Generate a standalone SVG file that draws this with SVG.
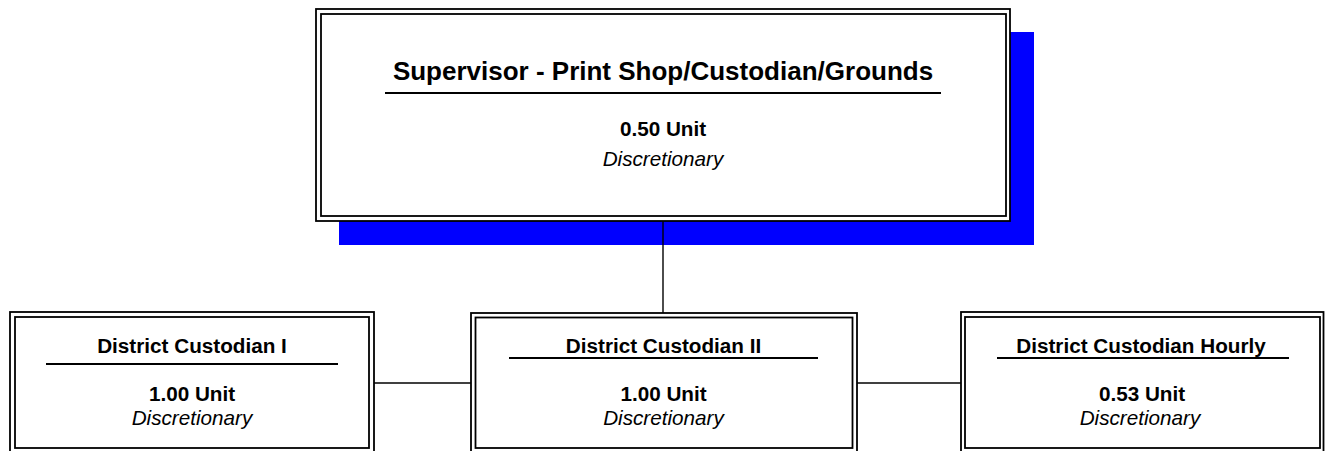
<svg xmlns="http://www.w3.org/2000/svg" width="1330" height="451" viewBox="0 0 1330 451">
  <style>
    .frame { fill: #ffffff; stroke: #000000; stroke-width: 1.8; }
    .inner { fill: none; stroke: #000000; stroke-width: 1.8; }
    .rule { stroke: #000000; stroke-width: 1.8; }
    .link { stroke: #000000; stroke-width: 1.4; fill: none; }
    text { font-family: "Liberation Sans", Arial, sans-serif; fill: #000000; text-anchor: middle; }
    .head { font-size: 26px; font-weight: bold; }
    .title { font-size: 20.7px; font-weight: bold; }
    .unit { font-size: 20.7px; font-weight: bold; }
    .kind { font-size: 20.7px; font-style: italic; }
  </style>

  <!-- supervisor card with drop shadow -->
  <g id="supervisor">
    <rect x="339" y="32" width="695" height="213" fill="#0000ff"/>
    <rect class="frame" x="316" y="9" width="694" height="212"/>
    <rect class="inner" x="321" y="14" width="685" height="202"/>
    <text class="head" x="663" y="80">Supervisor - Print Shop/Custodian/Grounds</text>
    <line class="rule" x1="385" y1="93" x2="941" y2="93"/>
    <text class="unit" x="663" y="136">0.50 Unit</text>
    <text class="kind" x="663" y="166">Discretionary</text>
  </g>

  <!-- reporting lines -->
  <g id="connectors">
    <line class="link" x1="663" y1="221" x2="663" y2="313"/>
    <line class="link" x1="374" y1="383" x2="471" y2="383"/>
    <line class="link" x1="857" y1="383" x2="961" y2="383"/>
  </g>

  <g id="custodian-1">
    <rect class="frame" x="10" y="312" width="364" height="145"/>
    <rect class="inner" x="15" y="317" width="354" height="131"/>
    <text class="title" x="192" y="352.5">District Custodian I</text>
    <line class="rule" x1="46" y1="364" x2="338" y2="364"/>
    <text class="unit" x="192" y="401">1.00 Unit</text>
    <text class="kind" x="192" y="425">Discretionary</text>
  </g>

  <g id="custodian-2">
    <rect class="frame" x="471" y="313" width="386" height="144"/>
    <rect class="inner" x="475.5" y="317.5" width="377" height="130.5"/>
    <text class="title" x="663.5" y="352.5">District Custodian II</text>
    <line class="rule" x1="509" y1="358" x2="818" y2="358"/>
    <text class="unit" x="663.5" y="401">1.00 Unit</text>
    <text class="kind" x="663.5" y="425">Discretionary</text>
  </g>

  <g id="custodian-hourly">
    <rect class="frame" x="961" y="312" width="362.5" height="145"/>
    <rect class="inner" x="965" y="317" width="355" height="131"/>
    <text class="title" x="1141" y="352.5">District Custodian Hourly</text>
    <line class="rule" x1="997" y1="358" x2="1289" y2="358"/>
    <text class="unit" x="1142" y="401">0.53 Unit</text>
    <text class="kind" x="1140" y="425">Discretionary</text>
  </g>
</svg>
